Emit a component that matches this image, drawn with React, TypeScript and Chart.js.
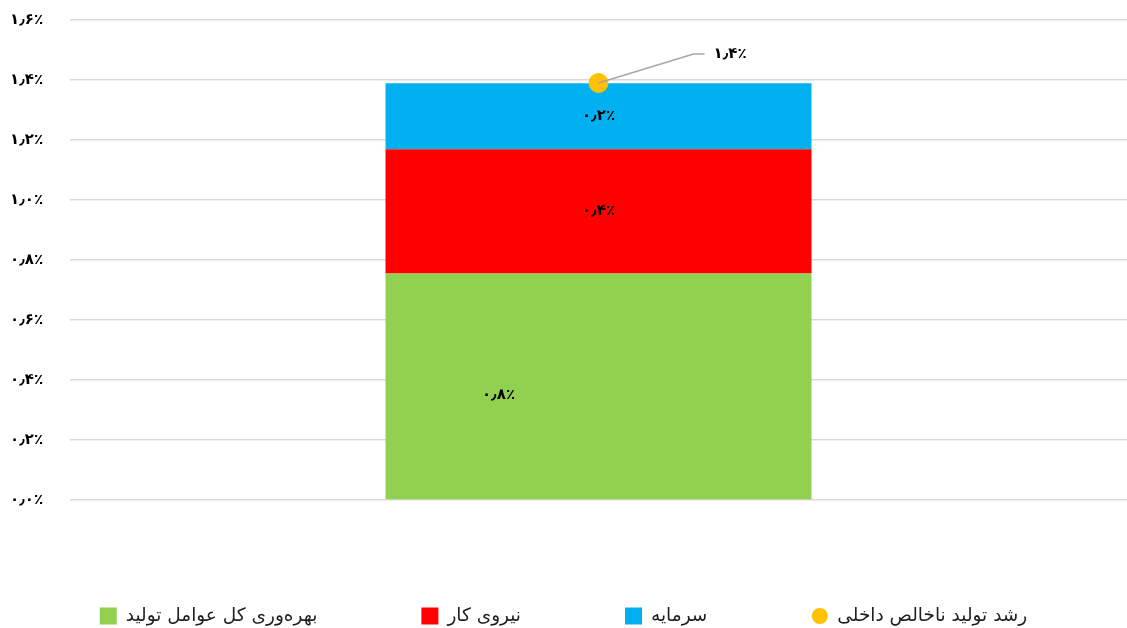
import React, { useEffect, useRef } from 'react';
import { Chart, registerables } from 'chart.js';

Chart.register(...registerables);

const categories = [''];
const seriesNames = [
  'بهره‌وری کل عوامل تولید',
  'نیروی کار',
  'سرمایه',
  'رشد تولید ناخالص داخلی',
];
const tfpValues = [0.755];
const laborValues = [0.414];
const capitalValues = [0.22];
const gdpGrowthValues = [1.39];
const yMin = 0;
const yMax = 1.6;
const yStep = 0.2;

const FA_DIGITS = '۰۱۲۳۴۵۶۷۸۹';
const toFa = (v: number) =>
  v
    .toFixed(1)
    .replace(/\d/g, (d) => FA_DIGITS[Number(d)])
    .replace('.', '٫') + '٪';

const FONT = "'DejaVu Sans', sans-serif";

const labelPlugin = {
  id: 'valueLabels',
  afterDatasetsDraw(chart: any) {
    const ctx = chart.ctx;
    ctx.save();
    ctx.font = `bold 15px ${FONT}`;
    ctx.fillStyle = '#000';
    ctx.textAlign = 'center';
    ctx.textBaseline = 'middle';
    chart.data.datasets.forEach((ds: any, i: number) => {
      const meta = chart.getDatasetMeta(i);
      meta.data.forEach((el: any, j: number) => {
        const v = ds.data[j];
        const off = ds.labelOffset || { x: 0, y: 0 };
        if (meta.type === 'bar') {
          const p = el.getProps(['x', 'y', 'base'], true);
          ctx.fillText(toFa(v), p.x + off.x, (p.y + p.base) / 2 + off.y);
        } else {
          const p = el.getProps(['x', 'y'], true);
          const ex = p.x + off.x;
          const ey = p.y + off.y;
          ctx.strokeStyle = '#a6a6a6';
          ctx.lineWidth = 1.5;
          ctx.beginPath();
          ctx.moveTo(p.x, p.y);
          ctx.lineTo(ex, ey);
          ctx.lineTo(ex + 11, ey);
          ctx.stroke();
          ctx.textAlign = 'left';
          ctx.fillText(toFa(v), ex + 20, ey);
        }
      });
    });
    ctx.restore();
  },
};

const legendPlugin = {
  id: 'customLegend',
  afterDraw(chart: any) {
    const ctx = chart.ctx;
    ctx.save();
    ctx.font = `18.5px ${FONT}`;
    ctx.textBaseline = 'middle';
    ctx.textAlign = 'left';
    const box = 17;
    const gapText = 9;
    const gapItem = 104;
    const items = chart.data.datasets.map((ds: any) => ({
      text: ds.label,
      color: ds.backgroundColor,
      circle: ds.type === 'line',
      w: box + gapText + ctx.measureText(ds.label).width,
    }));
    const total = items.reduce((s: number, it: any) => s + it.w, 0) + gapItem * (items.length - 1);
    let x = (chart.width - total) / 2;
    const cy = 616;
    items.forEach((it: any) => {
      ctx.fillStyle = it.color;
      if (it.circle) {
        ctx.beginPath();
        ctx.arc(x + box / 2, cy, 8, 0, Math.PI * 2);
        ctx.fill();
      } else {
        ctx.fillRect(x, cy - box / 2, box, box);
      }
      ctx.fillStyle = '#1f1f1f';
      ctx.fillText(it.text, x + box + gapText, cy);
      x += it.w + gapItem;
    });
    ctx.restore();
  },
};

export default function App() {
  const ref = useRef<HTMLCanvasElement>(null);
  useEffect(() => {
    if (!ref.current) return;
    const chart = new Chart(ref.current, {
      type: 'bar',
      data: {
        labels: categories,
        datasets: [
          {
            type: 'bar',
            label: seriesNames[0],
            data: tfpValues,
            backgroundColor: '#92D050',
            stack: 'main',
            labelOffset: { x: -100, y: 9 },
          } as any,
          {
            type: 'bar',
            label: seriesNames[1],
            data: laborValues,
            backgroundColor: '#FF0000',
            stack: 'main',
          } as any,
          {
            type: 'bar',
            label: seriesNames[2],
            data: capitalValues,
            backgroundColor: '#00B0F0',
            stack: 'main',
          } as any,
          {
            type: 'line',
            label: seriesNames[3],
            data: gdpGrowthValues,
            backgroundColor: '#FFC000',
            borderColor: '#FFC000',
            showLine: false,
            pointRadius: 9.5,
            pointHoverRadius: 9.5,
            stack: 'gdp',
            order: -1,
            labelOffset: { x: 95, y: -29 },
          } as any,
        ],
      },
      options: {
        animation: false,
        responsive: true,
        maintainAspectRatio: false,
        layout: { autoPadding: false, padding: { left: 10, top: 20, right: 0, bottom: 128 } },
        plugins: {
          legend: { display: false },
          tooltip: { enabled: false },
        },
        datasets: {
          bar: { categoryPercentage: 1, barPercentage: 0.403 },
        },
        scales: {
          x: {
            stacked: true,
            display: false,
          },
          y: {
            stacked: true,
            min: yMin,
            max: yMax,
            border: { display: false },
            grid: { color: '#d9d9d9', lineWidth: 1.5, drawTicks: false },
            ticks: {
              stepSize: yStep,
              padding: 0,
              crossAlign: 'far',
              color: '#000',
              font: { family: FONT, size: 15, weight: 'bold' },
              callback: (v: any) => toFa(Number(v)),
            },
            afterFit: (s: any) => {
              s.width = 60;
            },
          },
        },
      },
      plugins: [labelPlugin, legendPlugin],
    });
    return () => chart.destroy();
  }, []);
  return (
    <div style={{ position: 'absolute', left: 0, top: 0, width: 1127, height: 628 }}>
      <canvas ref={ref} />
    </div>
  );
}
